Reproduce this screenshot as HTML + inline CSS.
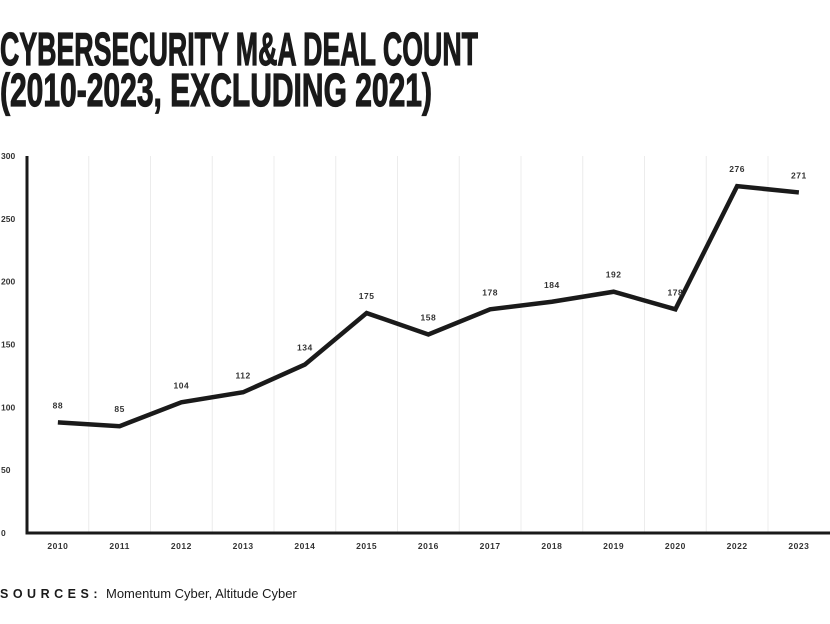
<!DOCTYPE html>
<html><head><meta charset="utf-8"><style>
html,body{margin:0;padding:0;background:#fff;width:830px;height:624px;overflow:hidden}
svg{display:block}
</style></head><body>
<svg id="c" width="830" height="624" xmlns="http://www.w3.org/2000/svg">
<text x="0" y="65" font-family="'Liberation Sans Narrow','Liberation Sans',sans-serif" font-weight="bold" font-size="46" fill="#1a1a1a" stroke="#1a1a1a" stroke-width="1.2" textLength="478" lengthAdjust="spacingAndGlyphs">CYBERSECURITY M&amp;A DEAL COUNT</text>
<text x="0" y="106" font-family="'Liberation Sans Narrow','Liberation Sans',sans-serif" font-weight="bold" font-size="46" fill="#1a1a1a" stroke="#1a1a1a" stroke-width="1.2" textLength="432" lengthAdjust="spacingAndGlyphs">(2010-2023, EXCLUDING 2021)</text>
<g id="grid"></g><g id="axes"></g><g id="marks"></g>
<text x="0" y="598" font-family="'Liberation Sans',sans-serif" font-weight="bold" font-size="12.5" fill="#1a1a1a" letter-spacing="4.5">SOURCES:</text>
<text x="106" y="598" font-family="'Liberation Sans',sans-serif" font-size="13" fill="#1a1a1a">Momentum Cyber, Altitude Cyber</text>
</svg>
<script>
const categories=["2010","2011","2012","2013","2014","2015","2016","2017","2018","2019","2020","2022","2023"];
const dealCounts=[88,85,104,112,134,175,158,178,184,192,178,276,271];
const yTicks=[0,50,100,150,200,250,300];
const NS="http://www.w3.org/2000/svg";
const x0=27,band=61.75,yBase=533,yTop=156,yMax=300;
const xs=i=>x0+band*(i+0.5);
const ys=v=>yBase-(v/yMax)*(yBase-yTop);
function mk(tag,attrs,parent,txt){const e=document.createElementNS(NS,tag);for(const k in attrs)e.setAttribute(k,attrs[k]);if(txt!==undefined)e.textContent=txt;parent.appendChild(e);return e;}
const grid=document.getElementById('grid'),axes=document.getElementById('axes'),marks=document.getElementById('marks');
for(let i=1;i<categories.length;i++){
 const g=mk('line',{x1:x0+band*i,x2:x0+band*i,y1:yTop,y2:yBase,stroke:'#ececec','stroke-width':1},grid);
 
 
}
yTicks.forEach(t=>{
 const e=mk('text',{x:1,y:ys(t)+3,'font-family':'Liberation Sans,sans-serif','font-weight':'bold','font-size':'8.5',fill:'#333'},axes,String(t));
 
 
});
categories.forEach((c,i)=>{
 const e=mk('text',{x:xs(i),y:549,'text-anchor':'middle','font-family':'Liberation Sans,sans-serif','font-weight':'bold','font-size':'8.5',fill:'#333','letter-spacing':'0.5'},axes,c);
 
 
});
const ya=mk('line',{x1:x0,x2:x0,y1:yTop,y2:yBase+1.5,stroke:'#1a1a1a','stroke-width':3},axes);


const xa=mk('line',{x1:x0-1.5,x2:830,y1:yBase,y2:yBase,stroke:'#1a1a1a','stroke-width':3},axes);


const pts=dealCounts.map((v,i)=>xs(i)+','+ys(v)).join(' ');
const line=mk('polyline',{points:pts,fill:'none',stroke:'#1a1a1a','stroke-width':4.5,'stroke-linejoin':'miter'},marks);


dealCounts.forEach((v,i)=>{
 const e=mk('text',{x:xs(i),y:ys(v)-14,'text-anchor':'middle','font-family':'Liberation Sans,sans-serif','font-weight':'bold','font-size':'8.5',fill:'#333','letter-spacing':'0.5'},marks,String(v));
 
 
});
</script>
</body></html>
